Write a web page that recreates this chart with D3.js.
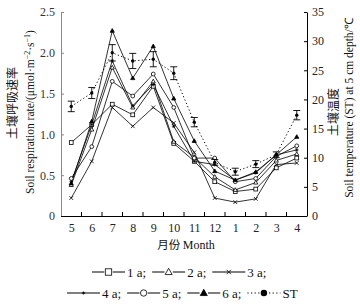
<!DOCTYPE html>
<html><head><meta charset="utf-8">
<script src="https://cdn.jsdelivr.net/npm/d3@7"></script>
<style>body{margin:0;background:#fff}svg{display:block}</style>
</head><body><svg id="c" width="360" height="304"></svg>
<script>
const months = ["5","6","7","8","9","10","11","12","1","2","3","4"];
const s1a = [0.90,1.12,1.37,1.24,1.59,0.89,0.67,0.42,0.30,0.33,0.59,0.71];
const s2a = [0.38,1.06,1.82,1.33,1.65,0.91,0.72,0.48,0.32,0.41,0.68,0.76];
const s3a = [0.22,0.67,1.33,1.10,1.33,1.14,0.78,0.22,0.17,0.21,0.63,0.65];
const s4a = [0.42,1.12,1.90,1.35,1.61,1.10,0.67,0.63,0.44,0.53,0.75,0.81];
const s5a = [0.46,0.85,1.65,1.47,1.74,1.33,0.71,0.71,0.42,0.46,0.73,0.86];
const s6a = [0.40,1.16,2.27,1.69,2.08,1.44,0.92,0.55,0.44,0.54,0.75,0.97];
const stVals = [18.8,21.1,28.0,26.6,26.9,24.5,16.1,9.2,7.6,8.9,10.5,17.3];
const stErr  = [0.9,0.95,1.4,1.3,1.3,1.1,0.8,0.5,0.6,0.6,0.5,0.8];
const leftTicks = [0,0.5,1.0,1.5,2.0,2.5];
const rightTicks = [0,5,10,15,20,25,30,35];
const seriesNames = ["1 a;","2 a;","3 a;","4 a;","5 a;","6 a;"];
const seriesData = [s1a,s2a,s3a,s4a,s5a,s6a];
const seriesMarks = ["square","triangle","cross","star","circle","triFilled"];

const svg = d3.select("#c");
const serif = "'Liberation Serif','Times New Roman',serif";
const cjk = "'Noto Sans CJK SC',sans-serif";
const L=61,R=307,T=12,B=216;
const x = d3.scalePoint().domain(months).range([L,R]).padding(0.5);
const yL = d3.scaleLinear().domain([0,2.5]).range([B,T]);
const yR = d3.scaleLinear().domain([0,35]).range([B,T]);

// left axis
const gL = svg.append("g").attr("transform",`translate(${L},0)`)
  .call(d3.axisLeft(yL).tickValues(leftTicks).tickSizeInner(-3).tickSizeOuter(0).tickPadding(6)
    .tickFormat(d=>d===0?"0":d3.format(".1f")(d)));
gL.select(".domain").attr("stroke","#888");
gL.selectAll(".tick line").attr("stroke","#888");
gL.selectAll("text").attr("font-family",serif).attr("font-size",12).attr("fill","#333");

// right axis
const gR = svg.append("g").attr("transform",`translate(${R},0)`)
  .call(d3.axisRight(yR).tickValues(rightTicks).tickSizeInner(-3).tickSizeOuter(0).tickPadding(5));
gR.selectAll("text").attr("font-family",serif).attr("font-size",12).attr("fill","#222");

// bottom axis
const gB = svg.append("g").attr("transform",`translate(0,${B})`)
  .call(d3.axisBottom(x).tickSize(0).tickPadding(7));
gB.select(".domain").attr("d",`M${L},0.5H${R}`);
gB.selectAll("text").attr("font-family",serif).attr("font-size",12).attr("fill","#222");
const step = x.step();
const bounds = months.slice(1).map(m=>x(m)-step/2);
svg.append("g").selectAll("line").data(bounds).join("line")
  .attr("x1",d=>d).attr("x2",d=>d).attr("y1",B).attr("y2",B-4).attr("stroke","#000");

// series lines
const line = d3.line().x((d,i)=>x(months[i])).y(d=>yL(d));
const gS = svg.append("g");
seriesData.forEach((arr,k)=>{
  gS.append("path").datum(arr).attr("d",line).attr("fill","none").attr("stroke","#000").attr("stroke-width",0.8);
});
function marker(g,type,cx,cy,s){
  if(type==="square") g.append("rect").attr("x",cx-s).attr("y",cy-s).attr("width",2*s).attr("height",2*s).attr("fill","#fff").attr("stroke","#000").attr("stroke-width",0.8);
  else if(type==="circle") g.append("circle").attr("cx",cx).attr("cy",cy).attr("r",s).attr("fill","#fff").attr("stroke","#000").attr("stroke-width",0.8);
  else if(type==="triangle"||type==="triFilled") g.append("path").attr("d",`M${cx},${cy-s*1.15}L${cx+s*1.1},${cy+s*0.8}L${cx-s*1.1},${cy+s*0.8}Z`).attr("fill",type==="triFilled"?"#000":"#fff").attr("stroke","#000").attr("stroke-width",0.8);
  else if(type==="cross") g.append("path").attr("d",`M${cx-s},${cy-s}L${cx+s},${cy+s}M${cx-s},${cy+s}L${cx+s},${cy-s}`).attr("stroke","#000").attr("stroke-width",0.8);
  else if(type==="star") g.append("path").attr("d",`M${cx-s},${cy}L${cx+s},${cy}M${cx},${cy-s}L${cx},${cy+s}M${cx-s*0.7},${cy-s*0.7}L${cx+s*0.7},${cy+s*0.7}M${cx-s*0.7},${cy+s*0.7}L${cx+s*0.7},${cy-s*0.7}`).attr("stroke","#000").attr("stroke-width",0.7);
  else if(type==="dot") g.append("circle").attr("cx",cx).attr("cy",cy).attr("r",s).attr("fill","#000");
}
seriesData.forEach((arr,k)=>{
  arr.forEach((v,i)=>marker(gS,seriesMarks[k],x(months[i]),yL(v),1.9));
});

// ST
const gT = svg.append("g");
gT.append("path").datum(stVals).attr("d",d3.line().x((d,i)=>x(months[i])).y(d=>yR(d)))
  .attr("fill","none").attr("stroke","#000").attr("stroke-width",1).attr("stroke-dasharray","1.2,2.4");
stVals.forEach((v,i)=>{
  const cx=x(months[i]), y1=yR(v+stErr[i]), y2=yR(v-stErr[i]);
  gT.append("path").attr("d",`M${cx},${y1}V${y2}M${cx-3.5},${y1}H${cx+3.5}M${cx-3.5},${y2}H${cx+3.5}`).attr("stroke","#000").attr("stroke-width",0.9).attr("fill","none");
  marker(gT,"dot",cx,yR(v),1.7);
});

// axis titles
function vtitle(xp,yp){
  return svg.append("text").attr("transform",`translate(${xp},${yp}) rotate(-90)`).attr("text-anchor","middle").attr("fill","#111");
}
vtitle(17,103).attr("font-family",cjk).attr("font-size",12).text("土壤呼吸速率");
const tL = vtitle(34,112).attr("font-family",serif).attr("font-size",11.5);
tL.append("tspan").text("Soil respiration rate/(μmol·m");
tL.append("tspan").attr("font-size",8).attr("dy",-4).text("−2");
tL.append("tspan").attr("dy",4).text("·s");
tL.append("tspan").attr("font-size",8).attr("dy",-4).text("−1");
tL.append("tspan").attr("dy",4).text(")");
vtitle(338,112).attr("font-family",cjk).attr("font-size",12).text("土壤温度");
vtitle(353,108).attr("font-family",serif).attr("font-size",11.5).text("Soil temperature (ST) at 5 cm depth/℃");

svg.append("text").attr("x",186).attr("y",249).attr("text-anchor","middle").attr("fill","#111")
  .call(t=>{t.append("tspan").attr("font-family",cjk).attr("font-size",11.5).text("月份 ");
            t.append("tspan").attr("font-family",serif).attr("font-size",12).text("Month");});

// legend
const legendItems = seriesNames.map((n,k)=>({name:n,mark:seriesMarks[k],dash:null}))
  .concat([{name:"ST",mark:"dot",dash:"1.2,2.4"}]);
const rows = [{start:92,y:272,items:legendItems.slice(0,3)},{start:67,y:293,items:legendItems.slice(3)}];
const gLeg = svg.append("g");
rows.forEach(r=>{
  let cx = r.start;
  r.items.forEach(it=>{
    const w=33;
    gLeg.append("line").attr("x1",cx).attr("x2",cx+w).attr("y1",r.y).attr("y2",r.y).attr("stroke","#000").attr("stroke-width",1)
      .attr("stroke-dasharray",it.dash);
    const s = it.mark==="star"?1.6:(it.mark==="cross"?2.2:3.2);
    if(it.mark!=="star"&&it.mark!=="cross"&&it.mark!=="dot")
      gLeg.append("rect").attr("x",cx+w/2-s-1).attr("y",r.y-s-1).attr("width",2*s+2).attr("height",2*s+2).attr("fill","#fff");
    marker(gLeg,it.mark,cx+w/2,r.y,s);
    const t = gLeg.append("text").attr("x",cx+w+2).attr("y",r.y+4.5).attr("font-family",serif).attr("font-size",13).attr("fill","#111").text(it.name);
    cx += w+2+t.node().getComputedTextLength()+6;
  });
});
</script></body></html>
